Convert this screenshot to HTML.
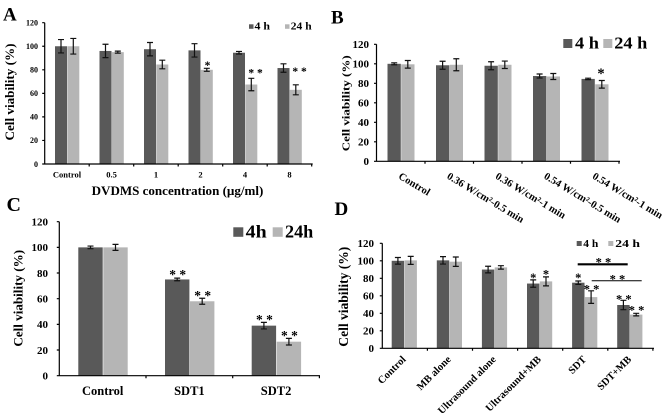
<!DOCTYPE html>
<html><head><meta charset="utf-8"><style>
html,body{margin:0;padding:0;background:#fff;}
svg{display:block;}
text{font-family:"Liberation Serif",serif;font-weight:bold;fill:#000;}
.d{fill:#595959;}
.l{fill:#b5b5b5;}
.ax{stroke:#000;stroke-width:1.2;fill:none;}
.eb{stroke:#111;stroke-width:1.2;fill:none;}
</style></head><body>
<svg width="668" height="419" viewBox="0 0 668 419" xmlns="http://www.w3.org/2000/svg">
<rect width="668" height="419" fill="#fff"/>

<!-- ===== Panel A ===== -->
<text x="3" y="20.7" font-size="19">A</text>
<text transform="translate(14,92) rotate(-90)" text-anchor="middle" font-size="13" textLength="97" lengthAdjust="spacingAndGlyphs">Cell viability (%)</text>
<g font-size="8" text-anchor="end">
<text x="38" y="166.8">0</text><text x="38" y="143.2">20</text><text x="38" y="119.7">40</text>
<text x="38" y="96.1">60</text><text x="38" y="72.6">80</text><text x="38" y="49">100</text><text x="38" y="25.5">120</text>
</g>
<rect class="d" x="55" y="46.25" width="12" height="117.75"/><rect class="l" x="67.3" y="46.25" width="12" height="117.75"/>
<rect class="d" x="99.5" y="50.96" width="12" height="113.04"/><rect class="l" x="111.8" y="52.14" width="12" height="111.86"/>
<rect class="d" x="144" y="49.2" width="12" height="114.8"/><rect class="l" x="156.3" y="64.5" width="12" height="99.5"/>
<rect class="d" x="188.5" y="50.37" width="12" height="113.63"/><rect class="l" x="200.8" y="69.8" width="12" height="94.2"/>
<rect class="d" x="233" y="52.73" width="12" height="111.27"/><rect class="l" x="245.3" y="84.52" width="12" height="79.48"/>
<rect class="d" x="277.5" y="68.03" width="12" height="95.97"/><rect class="l" x="289.8" y="89.82" width="12" height="74.18"/>
<path class="eb" d="M58,39.55H64M61,39.55V52.95M58,52.95H64
M70.3,38.45H76.3M73.3,38.45V54.05M70.3,54.05H76.3
M102.5,44.26H108.5M105.5,44.26V57.66M102.5,57.66H108.5
M114.8,51.14H120.8M117.8,51.14V53.14M114.8,53.14H120.8
M147,42.5H153M150,42.5V55.9M147,55.9H153
M159.3,60.2H165.3M162.3,60.2V68.8M159.3,68.8H165.3
M191.5,43.67H197.5M194.5,43.67V57.07M191.5,57.07H197.5
M203.8,68.3H209.8M206.8,68.3V71.3M203.8,71.3H209.8
M236,51.43H242M239,51.43V54.03M236,54.03H242
M248.3,78.32H254.3M251.3,78.32V90.72M248.3,90.72H254.3
M280.5,63.83H286.5M283.5,63.83V72.23M280.5,72.23H286.5
M292.8,84.82H298.8M295.8,84.82V94.82M292.8,94.82H298.8"/>
<g font-size="11.5" text-anchor="middle">
<text x="207.5" y="68.8">*</text>
<text x="255.5" y="76.5">* *</text>
<text x="299.5" y="74.8">* *</text>
</g>
<path class="ax" d="M44.7,22.7V164H312.7M42.2,22.7H44.7M42.2,46.25H44.7M42.2,69.8H44.7M42.2,93.35H44.7M42.2,116.9H44.7M42.2,140.45H44.7M42.2,164H44.7
M89.2,164V166.5M133.7,164V166.5M178.2,164V166.5M222.7,164V166.5M267.2,164V166.5M311.7,164V166.5"/>
<g font-size="8.5" text-anchor="middle">
<text x="67" y="177.3">Control</text><text x="111.5" y="177.3">0.5</text><text x="156" y="177.3">1</text>
<text x="200.5" y="177.3">2</text><text x="245" y="177.3">4</text><text x="289.5" y="177.3">8</text>
</g>
<text x="177.5" y="195" font-size="13" text-anchor="middle" textLength="171.7" lengthAdjust="spacingAndGlyphs">DVDMS concentration (µg/ml)</text>
<rect class="d" x="249" y="24.3" width="4.5" height="4.5"/>
<text x="254.5" y="29.6" font-size="10.5" textLength="15.5" lengthAdjust="spacingAndGlyphs">4 h</text>
<rect class="l" x="285" y="24.3" width="4.5" height="4.5"/>
<text x="290.8" y="29.6" font-size="10.5" textLength="20.8" lengthAdjust="spacingAndGlyphs">24 h</text>

<!-- ===== Panel B ===== -->
<text x="331" y="23.3" font-size="19">B</text>
<text transform="translate(349.7,103.3) rotate(-90)" text-anchor="middle" font-size="11" textLength="96" lengthAdjust="spacingAndGlyphs">Cell viability (%)</text>
<g font-size="11" text-anchor="end">
<text x="369" y="165">0</text><text x="369" y="145.5">20</text><text x="369" y="126">40</text>
<text x="369" y="106.5">60</text><text x="369" y="87">80</text><text x="369" y="67.5">100</text><text x="369" y="48">120</text>
</g>
<rect class="d" x="387.5" y="63.8" width="13.3" height="97.5"/><rect class="l" x="401.2" y="64.3" width="13.3" height="97"/>
<rect class="d" x="436" y="65.26" width="13.3" height="96.04"/><rect class="l" x="449.7" y="64.78" width="13.3" height="96.52"/>
<rect class="d" x="484.5" y="65.75" width="13.3" height="95.55"/><rect class="l" x="498.2" y="64.78" width="13.3" height="96.52"/>
<rect class="d" x="533" y="75.99" width="13.3" height="85.31"/><rect class="l" x="546.7" y="76.48" width="13.3" height="84.82"/>
<rect class="d" x="581.5" y="78.91" width="13.3" height="82.39"/><rect class="l" x="595.2" y="84.3" width="13.3" height="77"/>
<path class="eb" d="M391.2,62.8H397.2M394.2,62.8V64.8M391.2,64.8H397.2
M404.8,60.5H410.8M407.8,60.5V68.1M404.8,68.1H410.8
M439.6,61.26H445.6M442.6,61.26V69.26M439.6,69.26H445.6
M453.3,58.78H459.3M456.3,58.78V70.78M453.3,70.78H459.3
M488.1,61.75H494.1M491.1,61.75V69.75M488.1,69.75H494.1
M501.8,61.08H507.8M504.8,61.08V68.48M501.8,68.48H507.8
M536.6,73.99H542.6M539.6,73.99V77.99M536.6,77.99H542.6
M550.3,73.48H556.3M553.3,73.48V79.48M550.3,79.48H556.3
M585.1,78.2H591.1M588.1,78.2V79.6M585.1,79.6H591.1
M598.8,80.5H604.8M601.8,80.5V88.1M598.8,88.1H604.8"/>
<text x="601" y="78.2" font-size="14.5" text-anchor="middle">*</text>
<path class="ax" d="M376.5,44.3V161.3H620M374,44.3H376.5M374,63.8H376.5M374,83.3H376.5M374,102.8H376.5M374,122.3H376.5M374,141.8H376.5M374,161.3H376.5
M425,161.3V163.8M473.5,161.3V163.8M522,161.3V163.8M570.5,161.3V163.8M619,161.3V163.8"/>
<g font-size="10.5">
<text transform="translate(397.8,178) rotate(31)">Control</text>
<text transform="translate(446.3,178) rotate(31)">0.36 W/cm²-0.5 min</text>
<text transform="translate(494.8,178) rotate(31)">0.36 W/cm²-1 min</text>
<text transform="translate(543.3,178) rotate(31)">0.54 W/cm²-0.5 min</text>
<text transform="translate(591.8,178) rotate(31)">0.54 W/cm²-1 min</text>
</g>
<rect class="d" x="563.3" y="39" width="9" height="9"/>
<text x="575" y="48.3" font-size="16.5" textLength="24" lengthAdjust="spacingAndGlyphs">4 h</text>
<rect class="l" x="603.3" y="39" width="9" height="9"/>
<text x="614.3" y="48.3" font-size="16.5" textLength="33" lengthAdjust="spacingAndGlyphs">24 h</text>

<!-- ===== Panel C ===== -->
<text x="6.5" y="211" font-size="20">C</text>
<text transform="translate(22.5,298.3) rotate(-90)" text-anchor="middle" font-size="13" textLength="96.7" lengthAdjust="spacingAndGlyphs">Cell viability (%)</text>
<g font-size="11" text-anchor="end">
<text x="48" y="379.5">0</text><text x="48" y="353.8">20</text><text x="48" y="328.2">40</text>
<text x="48" y="302.5">60</text><text x="48" y="276.8">80</text><text x="48" y="251.2">100</text><text x="48" y="225.5">120</text>
</g>
<rect class="d" x="78.3" y="247.37" width="24.4" height="128.33"/><rect class="l" x="103.3" y="247.37" width="24.4" height="128.33"/>
<rect class="d" x="165" y="279.45" width="24.4" height="96.25"/><rect class="l" x="190" y="301.27" width="24.4" height="74.43"/>
<rect class="d" x="251.7" y="325.65" width="24.4" height="50.05"/><rect class="l" x="276.7" y="341.7" width="24.4" height="34"/>
<path class="eb" d="M87.5,246.07H93.5M90.5,246.07V248.67M87.5,248.67H93.5
M112.5,244.37H118.5M115.5,244.37V250.37M112.5,250.37H118.5
M174.2,278.15H180.2M177.2,278.15V280.75M174.2,280.75H180.2
M199.2,298.27H205.2M202.2,298.27V304.27M199.2,304.27H205.2
M260.9,322.35H266.9M263.9,322.35V328.95M260.9,328.95H266.9
M285.9,338.4H291.9M288.9,338.4V345M285.9,345H291.9"/>
<g font-size="13.5" text-anchor="middle">
<text x="177.7" y="279.2">* *</text>
<text x="202.7" y="299.8">* *</text>
<text x="264.4" y="324.2">* *</text>
<text x="289.4" y="339.8">* *</text>
</g>
<path class="ax" d="M59.3,221.7V375.7H320M56.8,221.7H59.3M56.8,247.37H59.3M56.8,273.03H59.3M56.8,298.7H59.3M56.8,324.37H59.3M56.8,350.03H59.3M56.8,375.7H59.3
M146,375.7V378.2M232.7,375.7V378.2M319.4,375.7V378.2"/>
<g font-size="12.5" text-anchor="middle">
<text x="102.7" y="395">Control</text><text x="189.4" y="395">SDT1</text><text x="276.1" y="395">SDT2</text>
</g>
<rect class="d" x="233.3" y="227.3" width="10" height="9.5"/>
<text x="245.7" y="237.3" font-size="18" textLength="21" lengthAdjust="spacingAndGlyphs">4h</text>
<rect class="l" x="272.7" y="227.3" width="10" height="9.5"/>
<text x="285" y="237.3" font-size="18" textLength="28.3" lengthAdjust="spacingAndGlyphs">24h</text>

<!-- ===== Panel D ===== -->
<text x="334.5" y="215" font-size="19">D</text>
<text transform="translate(348,296.7) rotate(-90)" text-anchor="middle" font-size="13.5" textLength="100" lengthAdjust="spacingAndGlyphs">Cell viability (%)</text>
<g font-size="11" text-anchor="end">
<text x="374" y="352">0</text><text x="374" y="334.5">20</text><text x="374" y="317">40</text>
<text x="374" y="299.5">60</text><text x="374" y="282">80</text><text x="374" y="264.5">100</text><text x="374" y="247">120</text>
</g>
<rect class="d" x="391.7" y="260.8" width="12.4" height="87.5"/><rect class="l" x="404.5" y="260.36" width="12.4" height="87.94"/>
<rect class="d" x="436.8" y="260.36" width="12.4" height="87.94"/><rect class="l" x="449.6" y="261.68" width="12.4" height="86.62"/>
<rect class="d" x="481.9" y="269.55" width="12.4" height="78.75"/><rect class="l" x="494.7" y="267.4" width="12.4" height="80.9"/>
<rect class="d" x="527" y="283.55" width="12.4" height="64.75"/><rect class="l" x="539.8" y="281.4" width="12.4" height="66.9"/>
<rect class="d" x="572.1" y="282.7" width="12.4" height="65.6"/><rect class="l" x="584.9" y="297.1" width="12.4" height="51.2"/>
<rect class="d" x="617.2" y="305" width="12.4" height="43.3"/><rect class="l" x="630" y="314.6" width="12.4" height="33.7"/>
<path class="eb" d="M394.9,257.5H400.9M397.9,257.5V264.1M394.9,264.1H400.9
M407.7,256.36H413.7M410.7,256.36V264.36M407.7,264.36H413.7
M440,256.66H446M443,256.66V264.06M440,264.06H446
M452.8,256.98H458.8M455.8,256.98V266.38M452.8,266.38H458.8
M485.1,266.25H491.1M488.1,266.25V272.85M485.1,272.85H491.1
M497.9,265.7H503.9M500.9,265.7V269.1M497.9,269.1H503.9
M530.2,279.85H536.2M533.2,279.85V287.25M530.2,287.25H536.2
M543,276.9H549M546,276.9V285.9M543,285.9H549
M575.3,281H581.3M578.3,281V284.4M575.3,284.4H581.3
M588.1,290.8H594.1M591.1,290.8V303.4M588.1,303.4H594.1
M620.4,300.3H626.4M623.4,300.3V309.7M620.4,309.7H626.4
M633.2,313.3H639.2M636.2,313.3V315.9M633.2,315.9H639.2"/>
<g font-size="12.5" text-anchor="middle">
<text x="533.2" y="282">*</text>
<text x="546" y="278.7">*</text>
<text x="578.3" y="282">*</text>
<text x="591.5" y="293.7">* *</text>
<text x="623.8" y="303.7">* *</text>
<text x="636.6" y="314.3">* *</text>
<text x="603.4" y="266.7">* *</text>
<text x="617.4" y="283.7">* *</text>
</g>
<path d="M577.7,264.3H627.7" stroke="#000" stroke-width="2.2"/>
<path d="M591.7,280.7H641.7" stroke="#000" stroke-width="1"/>
<path class="ax" d="M382.3,243.3V348.3H654M379.8,243.3H382.3M379.8,260.8H382.3M379.8,278.3H382.3M379.8,295.8H382.3M379.8,313.3H382.3M379.8,330.8H382.3M379.8,348.3H382.3
M427.4,348.3V350.8M472.5,348.3V350.8M517.6,348.3V350.8M562.7,348.3V350.8M607.8,348.3V350.8M652.9,348.3V350.8"/>
<g font-size="10.5" text-anchor="end">
<text transform="translate(406.4,360) rotate(-45)">Control</text>
<text transform="translate(451.5,360) rotate(-45)">MB alone</text>
<text transform="translate(496.6,360) rotate(-45)">Ultrasound alone</text>
<text transform="translate(541.7,360) rotate(-45)">Ultrasound+MB</text>
<text transform="translate(586.8,360) rotate(-45)">SDT</text>
<text transform="translate(631.9,360) rotate(-45)">SDT+MB</text>
</g>
<rect class="d" x="576.7" y="241" width="5" height="5"/>
<text x="583.3" y="246.8" font-size="11" textLength="15" lengthAdjust="spacingAndGlyphs">4 h</text>
<rect class="l" x="608.3" y="241" width="5" height="5"/>
<text x="615.3" y="246.8" font-size="11" textLength="24.7" lengthAdjust="spacingAndGlyphs">24 h</text>
</svg>
</body></html>
